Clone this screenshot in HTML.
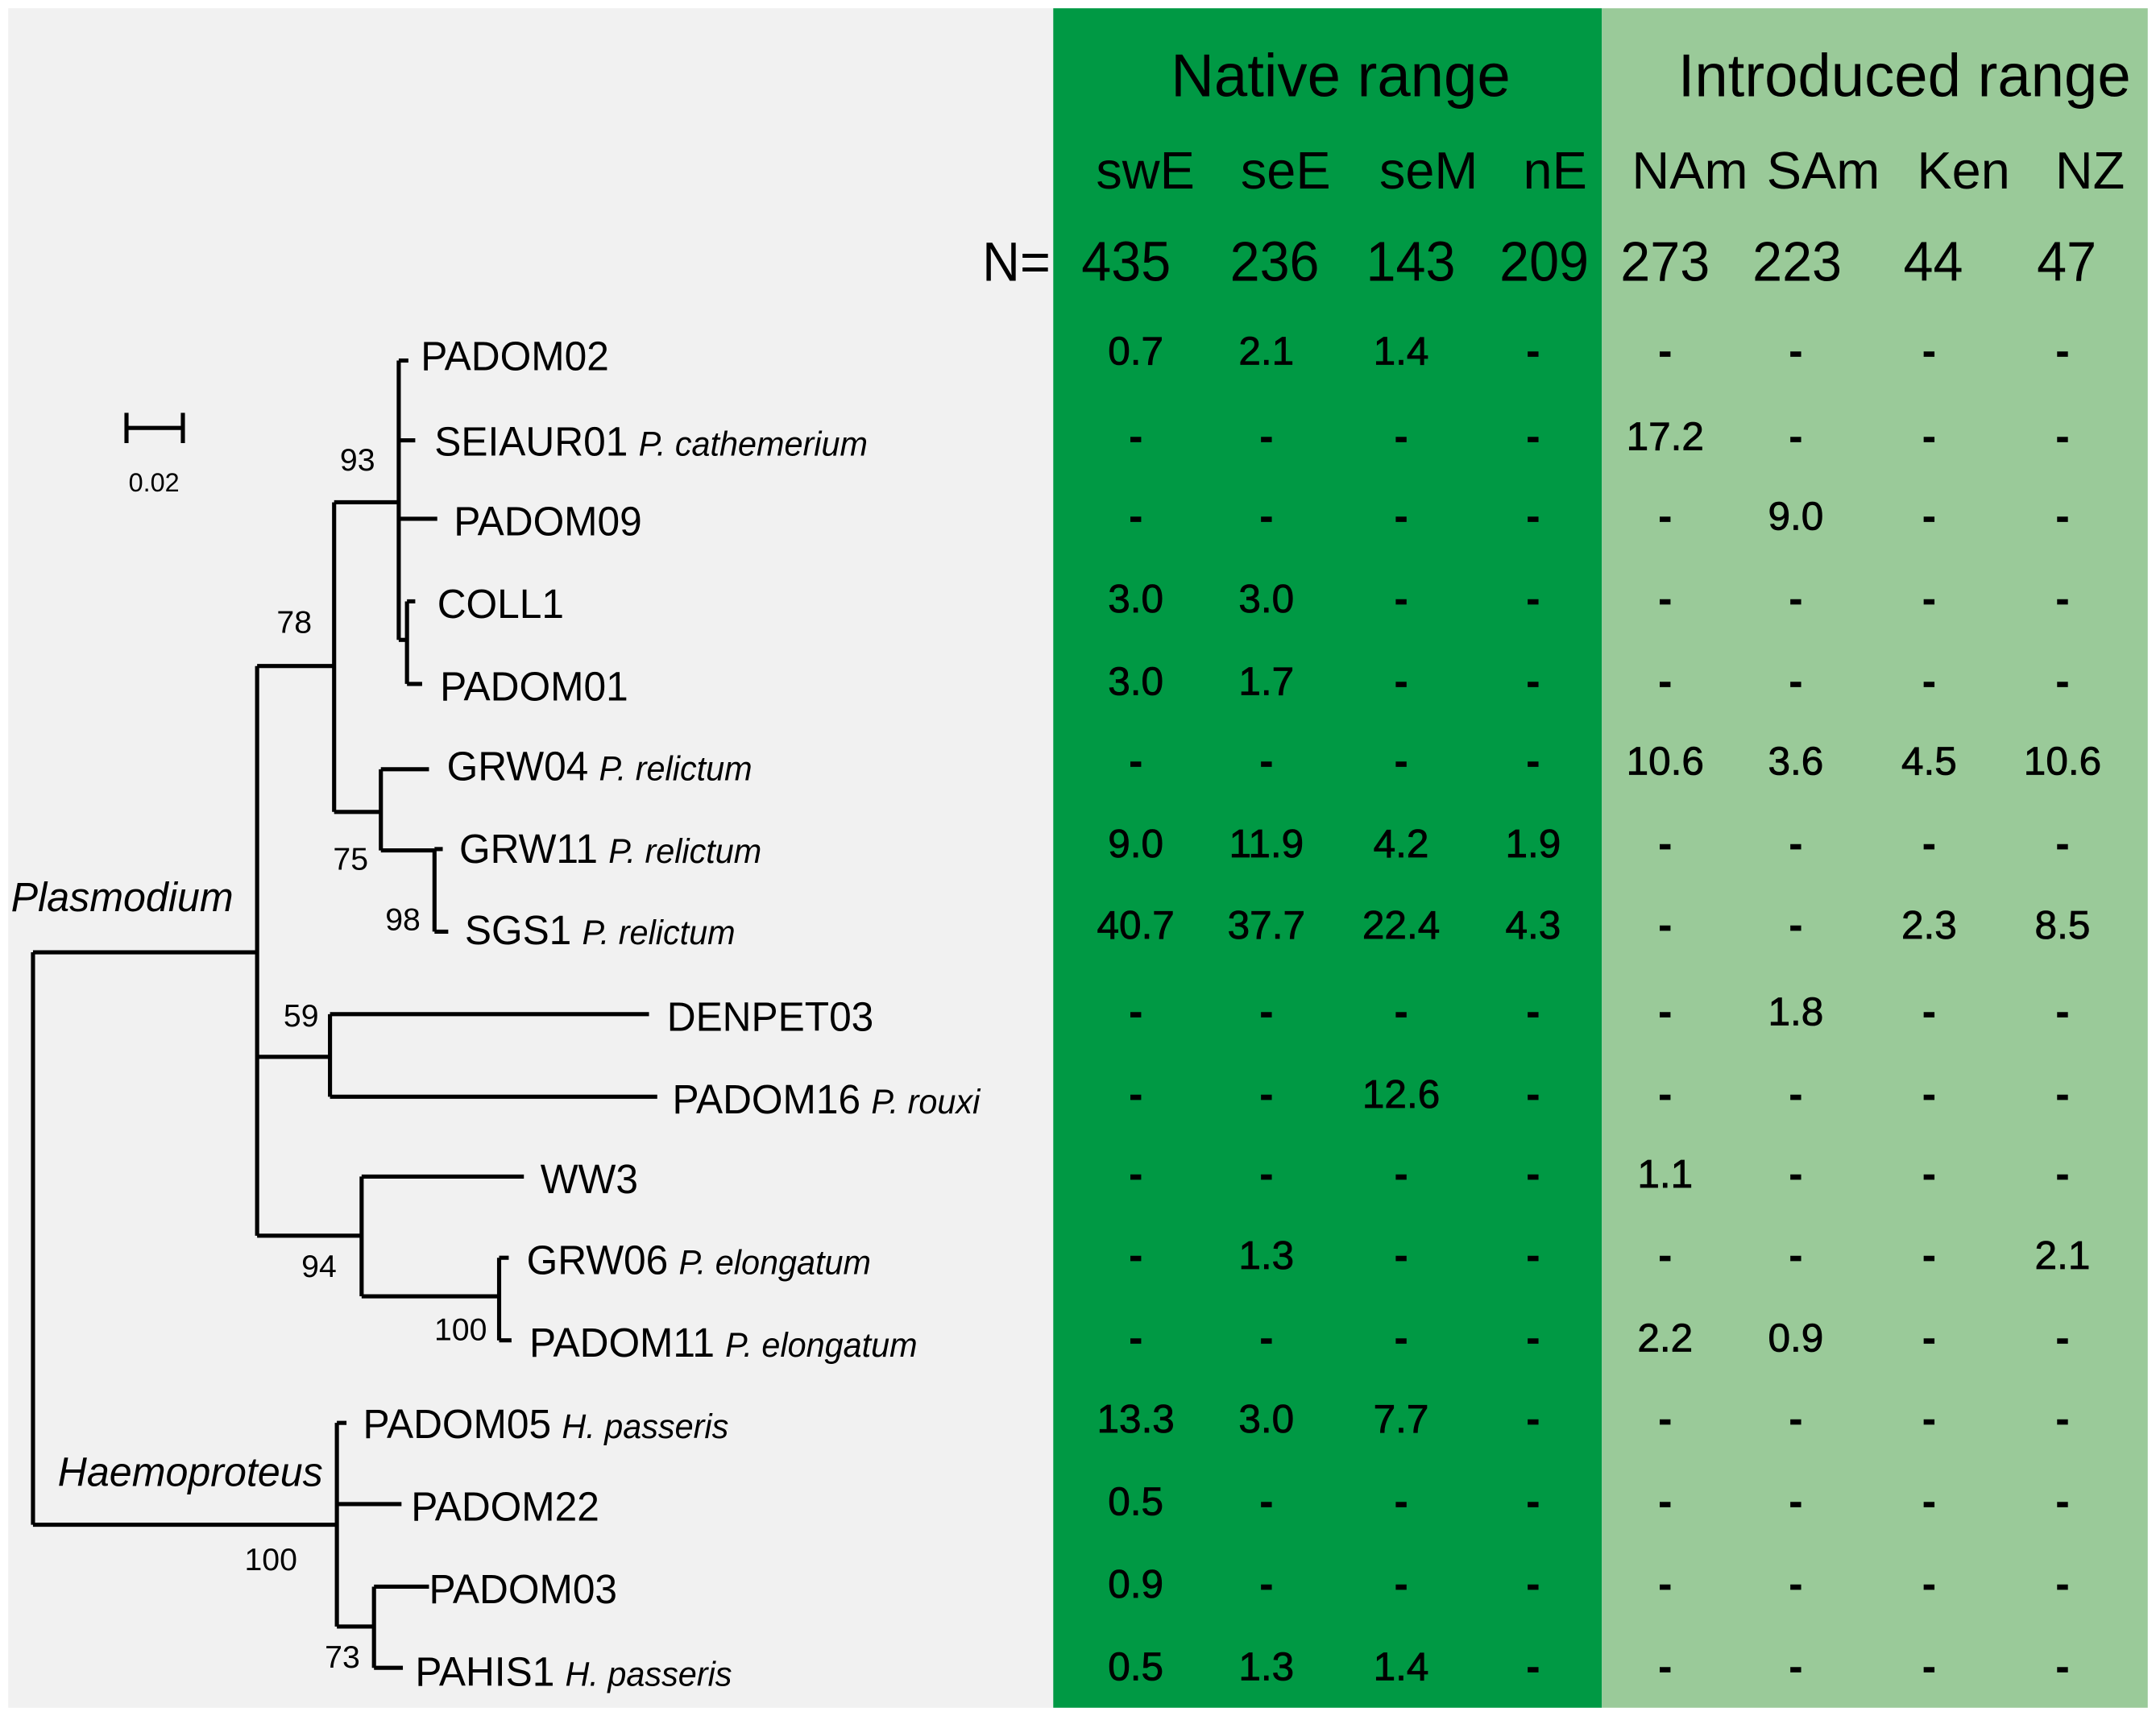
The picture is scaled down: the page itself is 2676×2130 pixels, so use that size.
<!DOCTYPE html>
<html><head><meta charset="utf-8"><style>
html,body{margin:0;padding:0;background:#fff;}
svg{display:block;}
text{font-family:"Liberation Sans",sans-serif;fill:#000;}
.val{stroke:#000;stroke-width:0.5;}
</style></head>
<body>
<svg id="fig" width="2676" height="2130" viewBox="0 0 1568 1247" preserveAspectRatio="none" xmlns="http://www.w3.org/2000/svg">
<rect x="6" y="6" width="760" height="1235" fill="#f1f1f1"/>
<rect x="766" y="6" width="399" height="1235" fill="#009944"/>
<rect x="1165" y="6" width="397" height="1235" fill="#9aca99"/>
<g id="tree" stroke="#000" stroke-width="3" fill="none"></g>
<g id="labels"></g>
<g id="table"></g>
</svg>
<script>
const regions = ["swE","seE","seM","nE","NAm","SAm","Ken","NZ"];
const sampleSizes = ["435","236","143","209","273","223","44","47"];
const lineages = ["PADOM02","SEIAUR01","PADOM09","COLL1","PADOM01","GRW04","GRW11","SGS1","DENPET03","PADOM16","WW3","GRW06","PADOM11","PADOM05","PADOM22","PADOM03","PAHIS1"];
const species = ["","P. cathemerium","","","","P. relictum","P. relictum","P. relictum","","P. rouxi","","P. elongatum","P. elongatum","H. passeris","","","H. passeris"];
const swE = ["0.7","-","-","3.0","3.0","-","9.0","40.7","-","-","-","-","-","13.3","0.5","0.9","0.5"];
const seE = ["2.1","-","-","3.0","1.7","-","11.9","37.7","-","-","-","1.3","-","3.0","-","-","1.3"];
const seM = ["1.4","-","-","-","-","-","4.2","22.4","-","12.6","-","-","-","7.7","-","-","1.4"];
const nE  = ["-","-","-","-","-","-","1.9","4.3","-","-","-","-","-","-","-","-","-"];
const NAm = ["-","17.2","-","-","-","10.6","-","-","-","-","1.1","-","2.2","-","-","-","-"];
const SAm = ["-","-","9.0","-","-","3.6","-","-","1.8","-","-","-","0.9","-","-","-","-"];
const Ken = ["-","-","-","-","-","4.5","-","2.3","-","-","-","-","-","-","-","-","-"];
const NZ  = ["-","-","-","-","-","10.6","-","8.5","-","-","-","2.1","-","-","-","-","-"];
const columns = [swE,seE,seM,nE,NAm,SAm,Ken,NZ];

const NS="http://www.w3.org/2000/svg";
const colX=[826,921,1019,1115,1211,1306,1403,1500];
const rowY=[255,317,375,435,495,553,613,672,735,795,853,912,972,1031,1091,1151,1211];
function txt(parent,x,y,s,size,opts){
  const t=document.createElementNS(NS,'text');
  const sx=(opts&&opts.sx)||1;
  t.setAttribute('transform','translate('+x+','+y+') scale('+sx+',1)');
  t.setAttribute('font-size',size);
  if(opts&&opts.anchor) t.setAttribute('text-anchor',opts.anchor);
  if(opts&&opts.italic) t.setAttribute('font-style','italic');
  if(opts&&opts.bold) t.setAttribute('font-weight','bold');
  if(opts&&opts.cls) t.setAttribute('class',opts.cls);
  t.textContent=s;
  parent.appendChild(t);
  return t;
}
const table=document.getElementById('table');
let e;
e=txt(table,975,70,"Native range",44,{anchor:'middle',sx:0.99});


e=txt(table,1385,70,"Introduced range",44,{anchor:'middle',sx:0.99});


e=txt(table,764,204,"N=",40,{anchor:'end',sx:0.95});


const hx=[833,935,1039,1131,1229,1326,1428,1520];
const nx=[819,927,1026,1123,1211,1307,1406,1503];
regions.forEach((r,i)=>{
  const a=txt(table,hx[i],137,r,38,{anchor:'middle'});
  
  
  const b=txt(table,nx[i],204,sampleSizes[i],41,{anchor:'middle',sx:0.95});
  
  
});
columns.forEach((col,ci)=>{
  col.forEach((v,ri)=>{
    const c=txt(table,colX[ci],rowY[ri]+10,v,29,{anchor:'middle',bold:v==='-',cls:'val'});
    
    
  });
});

const tree=document.getElementById('tree');
const segs=[
 [24,692,24,1108],[24,692,187,692],[24,1108,245,1108],
 [187,484,187,898],[187,484,243,484],[187,768,240,768],[187,898,263,898],
 [243,365,243,590],[243,365,290,365],[243,590,277,590],
 [290,262,290,465],[290,262,297,262],[290,320,302,320],[290,377,318,377],[290,465,296,465],
 [296,437,296,497],[296,437,302,437],[296,497,307,497],
 [277,559,277,618],[277,559,312,559],[277,618,316,618],
 [316,617,316,677],[316,617,322,617],[316,677,326,677],
 [240,737,240,797],[240,737,472,737],[240,797,478,797],
 [263,855,263,942],[263,855,381,855],[263,942,363,942],
 [363,914,363,974],[363,914,370,914],[363,974,372,974],
 [245,1034,245,1182],[245,1034,252,1034],[245,1093,292,1093],[245,1182,272,1182],
 [272,1153,272,1212],[272,1153,312,1153],[272,1212,293,1212],
 [92,311,133,311],[92,300,92,322],[133,300,133,322]
];
segs.forEach((s,i)=>{
  const l=document.createElementNS(NS,'line');
  l.setAttribute('x1',s[0]);l.setAttribute('y1',s[1]);l.setAttribute('x2',s[2]);l.setAttribute('y2',s[3]);
  
  
  tree.appendChild(l);
});
const labels=document.getElementById('labels');
const tipX=[306,316,330,318,320,325,334,338,485,489,393,383,385,264,299,312,302];
lineages.forEach((n,i)=>{
  const t=txt(labels,tipX[i],rowY[i]+14,n,30,{sx:0.97});
  
  
  if(species[i]){
    const ts=document.createElementNS(NS,'tspan');
    ts.setAttribute('font-size','25');
    ts.setAttribute('font-style','italic');
    ts.setAttribute('dx','8');
    ts.textContent=species[i];
    t.appendChild(ts);
  }
});
const boots=[["93",260,342],["78",214,460],["75",255,632],["98",293,676],["59",219,746],["94",232,928],["100",335,974],["100",197,1141],["73",249,1212]];
boots.forEach(b=>{
  const t=txt(labels,b[1],b[2],b[0],23,{anchor:'middle'});
  
  
});
e=txt(labels,8,662,"Plasmodium",30,{italic:true,sx:0.98});


e=txt(labels,42,1080,"Haemoproteus",30,{italic:true,sx:0.98});


e=txt(labels,112,357,"0.02",19,{anchor:'middle'});


</script>
</body></html>
